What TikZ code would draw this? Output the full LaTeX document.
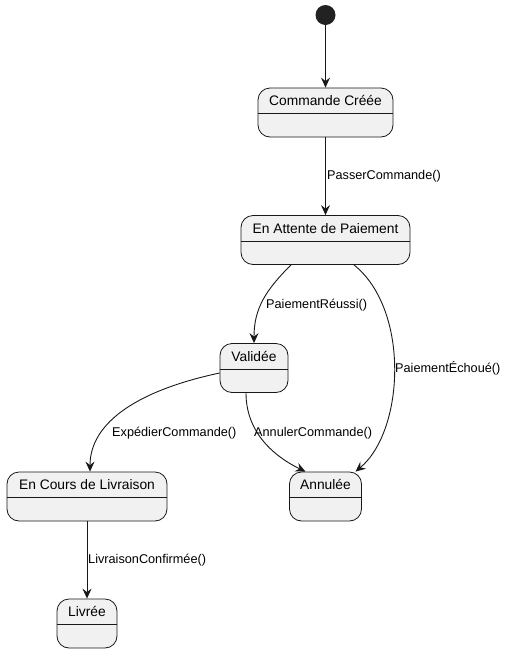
\documentclass[tikz,border=0pt]{standalone}
\usepackage{fontspec}
\setmainfont{Liberation Sans}
\usetikzlibrary{calc,arrows.meta}
\definecolor{trait}{HTML}{181818}
\definecolor{fond}{HTML}{F1F1F1}
\definecolor{puce}{HTML}{222222}
\newcommand{\etat}[4]{\node[etat,minimum width=#3] (#1) at (#2) {};
  \node[nom] (#1t) at ($(#1.north)+(0,13)$) {#4};
  \draw[trait,line width=0.8pt] ($(#1.west)+(0,1)$) -- ($(#1.east)+(0,1)$);}
\tikzset{etat/.style={draw=trait,fill=fond,line width=0.8pt,rounded corners=12pt,minimum height=49pt,inner sep=0pt},
  nom/.style={font=\fontsize{13.8}{16}\selectfont,inner sep=0pt},
  lbl/.style={font=\fontsize{12.7}{15}\selectfont,inner sep=0pt,anchor=west},
  fl/.style={draw=trait,line width=0.9pt,-{Stealth[length=10pt,width=9pt,inset=3.5pt]}}}

\begin{document}
\begin{tikzpicture}[x=1pt,y=-1pt]
\useasboundingbox (0,0) rectangle (508,654);
\node[circle,fill=puce,minimum size=20pt,inner sep=0pt] (debut) at (325.5,15) {};
\etat{cree}{325.5,112.5}{135pt}{Commande Créée}
\etat{attente}{325.5,240}{169pt}{En Attente de Paiement}
\etat{validee}{254,368}{68pt}{Validée}
\etat{livraison}{87,496.5}{160pt}{En Cours de Livraison}
\etat{annulee}{325.5,496.5}{72pt}{Annulée}
\etat{livree}{87,623.5}{60pt}{Livrée}
% transitions
\draw[fl] (debut) -- (cree);
\draw[fl] (cree) -- (attente);
\draw[fl] ($(attente.south)+(-34.5,0)$) .. controls +(-25,25) and +(0,-35) .. (validee.north);
\draw[fl] ($(attente.south)+(28.5,0)$) .. controls +(56,45) and +(49,-41) .. ($(annulee.north)+(30,0)$);
\draw[fl] ($(validee.west)+(0,5)$) .. controls +(-80,17) and +(0,-50) .. ($(livraison.north)+(3,0)$);
\draw[fl] ($(validee.south)+(-8,0)$) .. controls +(0,37) and +(-35,-17) .. ($(annulee.north)+(-20,0)$);
\draw[fl] (livraison) -- (livree);
\node[lbl] (lpasser) at (327,176) {PasserCommande()};
\node[lbl] (lreussi) at (266,305) {PaiementRéussi()};
\node[lbl] (lechoue) at (395,368) {PaiementÉchoué()};
\node[lbl] (lexpedier) at (112,433) {ExpédierCommande()};
\node[lbl] (lannuler) at (254,433) {AnnulerCommande()};
\node[lbl] (lconfirme) at (88,560) {LivraisonConfirmée()};
\end{tikzpicture}
\end{document}
